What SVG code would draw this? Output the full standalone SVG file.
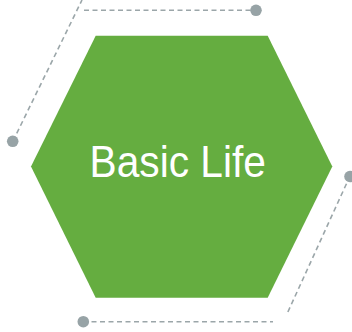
<svg xmlns="http://www.w3.org/2000/svg" width="352" height="332" viewBox="0 0 352 332">
  <style>
    .dash { fill: none; stroke: #9ba6a9; stroke-width: 1.6; stroke-dasharray: 5 3.5; }
    .dot { fill: #97a3a6; }
    .hex { fill: #65ad40; }
    .label { font-family: "Liberation Sans", Arial, sans-serif; font-size: 44px; fill: #ffffff; }
  </style>
  <rect width="352" height="332" fill="#ffffff"/>
  <g id="connectors">
    <line class="dash" x1="13" y1="141" x2="82" y2="0"/>
    <line class="dash" x1="84" y1="10.3" x2="256" y2="10.3"/>
    <circle class="dot" cx="12.7" cy="141.3" r="5.8"/>
    <circle class="dot" cx="256" cy="10.3" r="5.8"/>
    <line class="dash" x1="350" y1="176" x2="286.5" y2="315"/>
    <line class="dash" x1="83" y1="321.7" x2="273" y2="321.7"/>
    <circle class="dot" cx="350" cy="176.5" r="5.8"/>
    <circle class="dot" cx="83.3" cy="321.7" r="5.8"/>
  </g>
  <g id="basic-life">
    <polygon class="hex" points="31,166.5 95.7,35.7 267.7,35.7 332.3,166.5 267.7,297.7 95.7,297.7"/>
    <text class="label" x="89.5" y="177" textLength="176.5" lengthAdjust="spacingAndGlyphs">Basic Life</text>
  </g>
</svg>
